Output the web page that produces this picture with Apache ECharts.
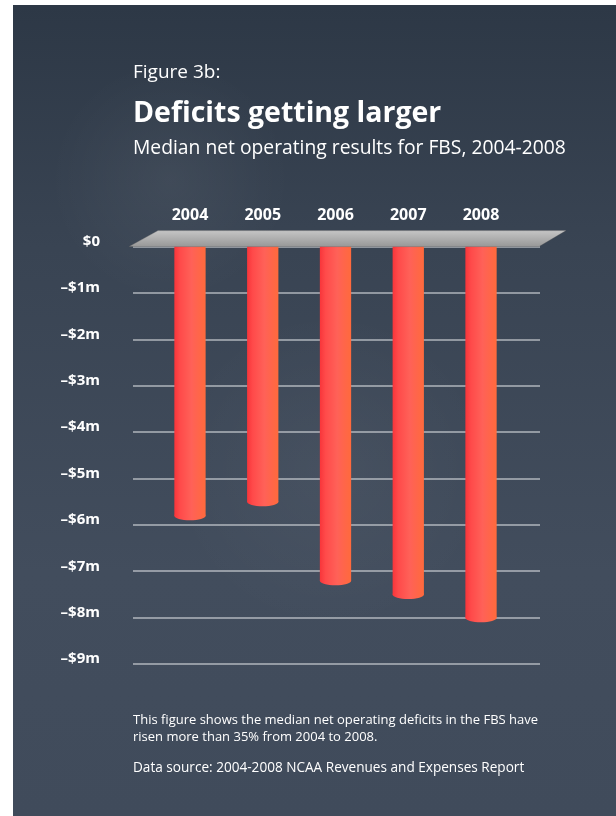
<!DOCTYPE html>
<html>
<head>
<meta charset="utf-8">
<script src="https://cdn.jsdelivr.net/npm/echarts@6/dist/echarts.min.js"></script>
<style>
  html, body { margin: 0; padding: 0; background: #ffffff; }
  #chart { width: 616px; height: 816px; }
</style>
</head>
<body>
<div id="chart"></div>
<script>
// Median net operating results for FBS programs, in $ millions
const years = ['2004', '2005', '2006', '2007', '2008'];
const netResults = [-5.9, -5.6, -7.3, -7.6, -8.1];
const yTickLabels = ['$0', '\u2013$1m', '\u2013$2m', '\u2013$3m', '\u2013$4m', '\u2013$5m', '\u2013$6m', '\u2013$7m', '\u2013$8m', '\u2013$9m'];

const FONT = '"Open Sans", "Noto Sans", sans-serif';
const chart = echarts.init(document.getElementById('chart'), null, { renderer: 'canvas' });

function cylinderFill() {
  return new echarts.graphic.LinearGradient(0, 0, 1, 0, [
    { offset: 0, color: '#f8353a' },
    { offset: 0.18, color: '#ff4a4a' },
    { offset: 0.55, color: '#ff6158' },
    { offset: 1, color: '#ff6a3c' }
  ]);
}

const option = {
  backgroundColor: '#ffffff',
  animation: false,
  graphic: [
    {
      type: 'rect', z: -10, silent: true,
      shape: { x: 13, y: 5, width: 603, height: 811 },
      style: {
        fill: new echarts.graphic.LinearGradient(0, 0, 0, 1, [
          { offset: 0, color: '#2d3846' },
          { offset: 0.3, color: '#394453' },
          { offset: 0.7, color: '#424d5d' },
          { offset: 1, color: '#404b5b' }
        ])
      }
    },
    // faint chalk smudges on the board
    {
      type: 'ellipse', z: -9, silent: true,
      shape: { cx: 170, cy: 180, rx: 230, ry: 120 },
      style: {
        fill: new echarts.graphic.RadialGradient(0.5, 0.5, 0.5, [
          { offset: 0, color: 'rgba(255,255,255,0.05)' },
          { offset: 1, color: 'rgba(255,255,255,0)' }
        ])
      }
    },
    {
      type: 'ellipse', z: -9, silent: true,
      shape: { cx: 330, cy: 470, rx: 260, ry: 160 },
      style: {
        fill: new echarts.graphic.RadialGradient(0.5, 0.5, 0.5, [
          { offset: 0, color: 'rgba(255,255,255,0.04)' },
          { offset: 1, color: 'rgba(255,255,255,0)' }
        ])
      }
    },
    {
      type: 'text', left: 133, top: 63,
      style: { text: 'Figure 3b:', fill: '#ffffff', font: '19px ' + FONT }
    },
    {
      type: 'text', left: 133, top: 99,
      style: { text: 'Deficits getting larger', fill: '#ffffff', font: 'bold 28.5px ' + FONT }
    },
    {
      type: 'text', left: 133, top: 139,
      style: { text: 'Median net operating results for FBS, 2004-2008', fill: '#ffffff', font: '19.3px ' + FONT }
    },
    {
      type: 'text', left: 133, top: 712,
      style: {
        text: 'This figure shows the median net operating deficits in the FBS have\nrisen more than 35% from 2004 to 2008.',
        fill: '#ffffff', font: '13px ' + FONT, lineHeight: 17
      }
    },
    {
      type: 'text', left: 133, top: 761,
      style: { text: 'Data source: 2004-2008 NCAA Revenues and Expenses Report', fill: '#ffffff', font: '13.6px ' + FONT }
    }
  ],
  grid: [
    { left: 133, right: 76, top: 246.6, bottom: 152 },
    { left: 153.6, right: 98.6, top: 246.6, bottom: 152 }
  ],
  xAxis: [
    { type: 'value', gridIndex: 0, min: 0, max: 1, show: false },
    {
      type: 'category', gridIndex: 1, data: years, position: 'top',
      axisLine: { show: false }, axisTick: { show: false },
      axisLabel: { color: '#ffffff', fontFamily: FONT, fontWeight: 'bold', fontSize: 16, margin: 23 }
    }
  ],
  yAxis: [
    {
      type: 'value', gridIndex: 0, min: -9, max: 0, interval: 1,
      axisLine: { show: false }, axisTick: { show: false },
      splitLine: { lineStyle: { color: 'rgba(215,218,222,0.75)', width: 1.5 } },
      axisLabel: {
        color: '#ffffff', fontFamily: FONT, fontWeight: 'bold', fontSize: 15, margin: 33,
        verticalAlign: 'bottom', lineHeight: 10,
        formatter: function (v) { return yTickLabels[Math.round(-v)]; }
      }
    },
    { type: 'value', gridIndex: 1, min: -9, max: 0, interval: 1, show: false }
  ],
  series: [
    {
      // cylinder-shaped bars hanging below the zero platform
      type: 'custom', xAxisIndex: 1, yAxisIndex: 1, z: 3,
      data: years.map(function (y, i) { return [i, netResults[i]]; }),
      renderItem: function (params, api) {
        const base = api.coord([api.value(0), 0]);
        const end = api.coord([api.value(0), api.value(1)]);
        const w = api.size([1, 0])[0] * 0.43;
        const ry = 4.5;
        const x = base[0] - w / 2;
        return {
          type: 'group',
          children: [
            { type: 'rect', shape: { x: x, y: base[1], width: w, height: end[1] - ry - base[1] }, style: { fill: cylinderFill() } },
            { type: 'ellipse', shape: { cx: base[0], cy: end[1] - ry, rx: w / 2, ry: ry }, style: { fill: cylinderFill() } }
          ]
        };
      }
    },
    {
      // the grey zero-level platform
      type: 'custom', xAxisIndex: 0, yAxisIndex: 0, z: 5,
      data: [[0, 0]],
      renderItem: function (params, api) {
        const cs = params.coordSys;
        const y0 = api.coord([0, 0])[1];
        const x0 = cs.x, x1 = cs.x + cs.width;
        return {
          type: 'polygon',
          shape: { points: [[x0 - 4, y0], [x1 - 1, y0], [x1 + 26, y0 - 16], [x0 + 25, y0 - 16]] },
          style: {
            fill: new echarts.graphic.LinearGradient(0, 0, 0, 1, [
              { offset: 0, color: '#c6c6c6' },
              { offset: 1, color: '#979797' }
            ]),
            stroke: 'rgba(90,90,90,0.5)', lineWidth: 0.6
          }
        };
      }
    }
  ]
};

chart.setOption(option);
</script>
</body>
</html>
